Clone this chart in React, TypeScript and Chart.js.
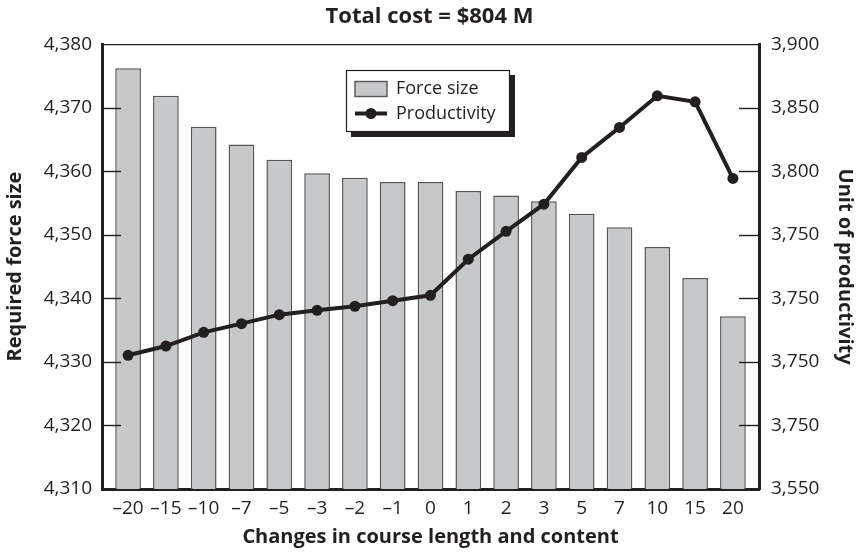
import React, { useEffect, useRef } from "react";
import { Chart, registerables } from "chart.js";

Chart.register(...registerables);

const categories = ["–20", "–15", "–10", "–7", "–5", "–3", "–2", "–1", "0", "1", "2", "3", "5", "7", "10", "15", "20"];
const forceSize = [4376.2, 4371.9, 4367.0, 4364.2, 4361.8, 4359.7, 4359.0, 4358.3, 4358.3, 4356.9, 4356.2, 4355.3, 4353.3, 4351.2, 4348.1, 4343.2, 4337.2];
const productivity = [3655.2, 3662.5, 3673.3, 3680.1, 3687.2, 3690.6, 3693.8, 3698.2, 3702.4, 3730.8, 3752.8, 3774.1, 3810.9, 3834.5, 3859.4, 3854.7, 3794.4];
const rightTickValues = [3900, 3850, 3800, 3750, 3700, 3650, 3600, 3550];
const rightTickLabels = ["3,900", "3,850", "3,800", "3,750", "3,750", "3,750", "3,750", "3,550"];

const INK = "#231f20";
const BAR_FILL = "#c7c8ca";
const BAR_EDGE = "#555557";
const FONT = "'Open Sans', 'Noto Sans', sans-serif";

const framePlugin = {
  id: "frameAndTicks",
  afterDatasetsDraw(chart: any) {
    const { ctx, chartArea } = chart;
    ctx.save();
    ctx.strokeStyle = INK;
    ctx.lineWidth = 1.2;
    ctx.beginPath();
    ctx.moveTo(chartArea.left, chartArea.top + 0.5);
    ctx.lineTo(chartArea.right, chartArea.top + 0.5);
    ctx.stroke();
    ctx.lineWidth = 1.4;
    const yl = chart.scales.y;
    yl.ticks.forEach((t: any) => {
      if (t.value <= yl.min || t.value >= yl.max) return;
      const py = Math.round(yl.getPixelForValue(t.value)) + 0.5;
      ctx.beginPath();
      ctx.moveTo(chartArea.left, py);
      ctx.lineTo(chartArea.left + 19, py);
      ctx.stroke();
    });
    const yr = chart.scales.y1;
    yr.ticks.forEach((t: any) => {
      if (t.value <= yr.min || t.value >= yr.max) return;
      const py = Math.round(yr.getPixelForValue(t.value)) + 0.5;
      ctx.beginPath();
      ctx.moveTo(chartArea.right, py);
      ctx.lineTo(chartArea.right - 20, py);
      ctx.stroke();
    });
    ctx.restore();
  },
};

const legendPlugin = {
  id: "boxLegend",
  afterDraw(chart: any) {
    const ctx = chart.ctx;
    const x = 346, y = 70, w = 164, h = 62;
    ctx.save();
    ctx.fillStyle = INK;
    ctx.fillRect(x + 5, y + 5, w, h);
    ctx.fillStyle = "#ffffff";
    ctx.fillRect(x, y, w, h);
    ctx.strokeStyle = INK;
    ctx.lineWidth = 1.2;
    ctx.strokeRect(x + 0.5, y + 0.5, w - 1, h - 1);
    ctx.font = `18px ${FONT}`;
    ctx.textBaseline = "middle";
    ctx.textAlign = "left";
    const rows = [89, 113.5];
    chart.data.datasets.forEach((ds: any, i: number) => {
      const cy = rows[i];
      if (ds.type === "bar") {
        ctx.fillStyle = BAR_FILL;
        ctx.fillRect(355, cy - 7.5, 32, 15);
        ctx.strokeStyle = BAR_EDGE;
        ctx.lineWidth = 1.4;
        ctx.strokeRect(355, cy - 7.5, 32, 15);
      } else {
        ctx.strokeStyle = INK;
        ctx.lineWidth = 4;
        ctx.beginPath();
        ctx.moveTo(355, cy);
        ctx.lineTo(387, cy);
        ctx.stroke();
        ctx.fillStyle = INK;
        ctx.beginPath();
        ctx.arc(371, cy, 5.5, 0, Math.PI * 2);
        ctx.fill();
      }
      ctx.fillStyle = INK;
      ctx.fillText(ds.label, 396, cy);
    });
    ctx.restore();
  },
};

export default function App() {
  const ref = useRef<HTMLCanvasElement | null>(null);

  useEffect(() => {
    document.body.style.margin = "0";
    const canvas = ref.current;
    if (!canvas) return;
    const chart = new Chart(canvas, {
      type: "bar",
      data: {
        datasets: [
          {
            type: "bar",
            label: "Force size",
            data: forceSize.map((v, i) => ({ x: i, y: v })),
            backgroundColor: BAR_FILL,
            borderColor: BAR_EDGE,
            borderWidth: 1.5,
            categoryPercentage: 1,
            barPercentage: 0.68,
            yAxisID: "y",
            order: 2,
          } as any,
          {
            type: "line",
            label: "Productivity",
            data: productivity.map((v, i) => ({ x: i, y: v })),
            borderColor: INK,
            backgroundColor: INK,
            borderWidth: 4,
            pointRadius: 5.5,
            pointBackgroundColor: INK,
            pointBorderWidth: 0,
            tension: 0,
            yAxisID: "y1",
            order: 1,
          } as any,
        ],
      },
      options: {
        responsive: false,
        animation: false,
        devicePixelRatio: 1,
        layout: { padding: 0 },
        plugins: {
          legend: { display: false },
          tooltip: { enabled: false },
          title: {
            display: true,
            text: "Total cost = $804 M",
            color: INK,
            font: { family: FONT, size: 22, weight: "bold", lineHeight: 1.2 },
            padding: { top: 4, bottom: 13.8 },
          },
        },
        scales: {
          x: {
            type: "linear",
            offset: false,
            min: -0.69,
            max: 16.69,
            z: 1,
            grid: { display: false, drawTicks: false, offset: false },
            border: { display: true, width: 3, color: INK },
            afterBuildTicks: (scale: any) => {
              scale.ticks = categories.map((_, i) => ({ value: i }));
            },
            afterFit: (scale: any) => {
              scale.height = 64;
            },
            ticks: {
              autoSkip: false,
              maxRotation: 0,
              padding: 8,
              color: INK,
              font: { family: FONT, size: 19 },
              callback: (v: any) => categories[Math.round(Number(v))] ?? "",
            },
            title: {
              display: true,
              text: "Changes in course length and content",
              color: INK,
              font: { family: FONT, size: 20, weight: "bold", lineHeight: 1.2 },
              padding: { top: 0, bottom: 4 },
            },
          },
          y: {
            type: "linear",
            position: "left",
            min: 4310,
            max: 4380,
            grid: { display: false, drawTicks: false },
            border: { display: true, width: 3, color: INK },
            afterFit: (scale: any) => {
              scale.width = 102;
            },
            ticks: {
              stepSize: 10,
              padding: 10,
              color: INK,
              font: { family: FONT, size: 19 },
              callback: (v: any) => Number(v).toLocaleString("en-US"),
            },
            title: {
              display: true,
              text: "Required force size",
              color: INK,
              font: { family: FONT, size: 20, weight: "bold", lineHeight: 1.2 },
              padding: { top: 3, bottom: 0 },
            },
          },
          y1: {
            type: "linear",
            position: "right",
            min: 3550,
            max: 3900,
            grid: { display: false, drawTicks: false },
            border: { display: true, width: 3, color: INK },
            afterFit: (scale: any) => {
              scale.width = 100;
            },
            afterBuildTicks: (scale: any) => {
              scale.ticks = rightTickValues.map((v) => ({ value: v }));
            },
            ticks: {
              padding: 12,
              color: INK,
              font: { family: FONT, size: 19 },
              callback: (v: any) => {
                const idx = rightTickValues.indexOf(Number(v));
                return idx >= 0 ? rightTickLabels[idx] : "";
              },
            },
            title: {
              display: true,
              text: "Unit of productivity",
              color: INK,
              font: { family: FONT, size: 20, weight: "bold", lineHeight: 1.2 },
              padding: { top: 2, bottom: 0 },
            },
          },
        },
      } as any,
      plugins: [framePlugin, legendPlugin],
    });
    return () => chart.destroy();
  }, []);

  return (
    <div style={{ position: "absolute", left: 0, top: 0, width: 859, height: 553, background: "#fff" }}>
      <canvas ref={ref} width={859} height={553} style={{ display: "block", width: 859, height: 553 }} />
    </div>
  );
}
